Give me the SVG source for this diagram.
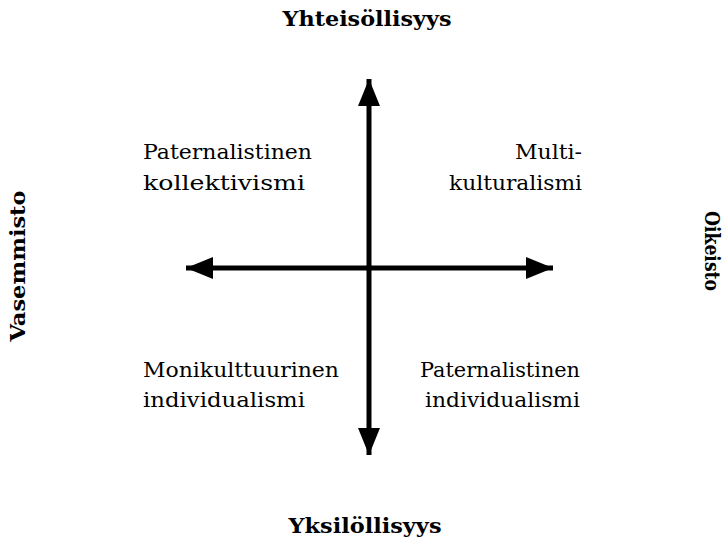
<svg xmlns="http://www.w3.org/2000/svg" width="724" height="541" viewBox="0 0 724 541">
<style>
.t{font-family:"DejaVu Serif",serif;font-size:20px;fill:#000}
.b{font-family:"DejaVu Serif",serif;font-size:20px;font-weight:bold;fill:#000}
.ax{stroke:#000;stroke-width:5;fill:none}
</style>
<defs>
<marker id="ah" viewBox="0 0 27 22" refX="27" refY="11" markerWidth="27" markerHeight="22" markerUnits="userSpaceOnUse" orient="auto">
<path d="M0,0 L27,11 L0,22 Z" fill="#000"/>
</marker>
</defs>
<g id="connectors">
<line class="ax" x1="369" y1="260" x2="369" y2="79" marker-end="url(#ah)"/>
<line class="ax" x1="369" y1="260" x2="369" y2="455" marker-end="url(#ah)"/>
<line class="ax" x1="369" y1="268" x2="186" y2="268" marker-end="url(#ah)"/>
<line class="ax" x1="369" y1="268" x2="553" y2="268" marker-end="url(#ah)"/>
</g>
<g id="top"><text class="b" x="367" y="26" text-anchor="middle" textLength="169" lengthAdjust="spacingAndGlyphs">Yhteisöllisyys</text></g>
<g id="bottom"><text class="b" x="365" y="533" text-anchor="middle" textLength="153" lengthAdjust="spacingAndGlyphs">Yksilöllisyys</text></g>
<g id="left"><text class="b" transform="translate(25,266) rotate(-90)" text-anchor="middle" textLength="151" lengthAdjust="spacingAndGlyphs">Vasemmisto</text></g>
<g id="right"><text class="b" transform="translate(705,251) rotate(90)" text-anchor="middle" textLength="80" lengthAdjust="spacingAndGlyphs">Oikeisto</text></g>
<g id="q1"><text class="t" x="143" y="159" textLength="169" lengthAdjust="spacingAndGlyphs">Paternalistinen</text><text class="t" x="143" y="190" textLength="162" lengthAdjust="spacingAndGlyphs">kollektivismi</text></g>
<g id="q2"><text class="t" x="582" y="159" text-anchor="end" textLength="67" lengthAdjust="spacingAndGlyphs">Multi-</text><text class="t" x="582" y="190" text-anchor="end" textLength="133" lengthAdjust="spacingAndGlyphs">kulturalismi</text></g>
<g id="q3"><text class="t" x="143" y="377" textLength="196" lengthAdjust="spacingAndGlyphs">Monikulttuurinen</text><text class="t" x="143" y="407" textLength="162" lengthAdjust="spacingAndGlyphs">individualismi</text></g>
<g id="q4"><text class="t" x="580" y="377" text-anchor="end" textLength="160" lengthAdjust="spacingAndGlyphs">Paternalistinen</text><text class="t" x="580" y="407" text-anchor="end" textLength="155" lengthAdjust="spacingAndGlyphs">individualismi</text></g>
</svg>
